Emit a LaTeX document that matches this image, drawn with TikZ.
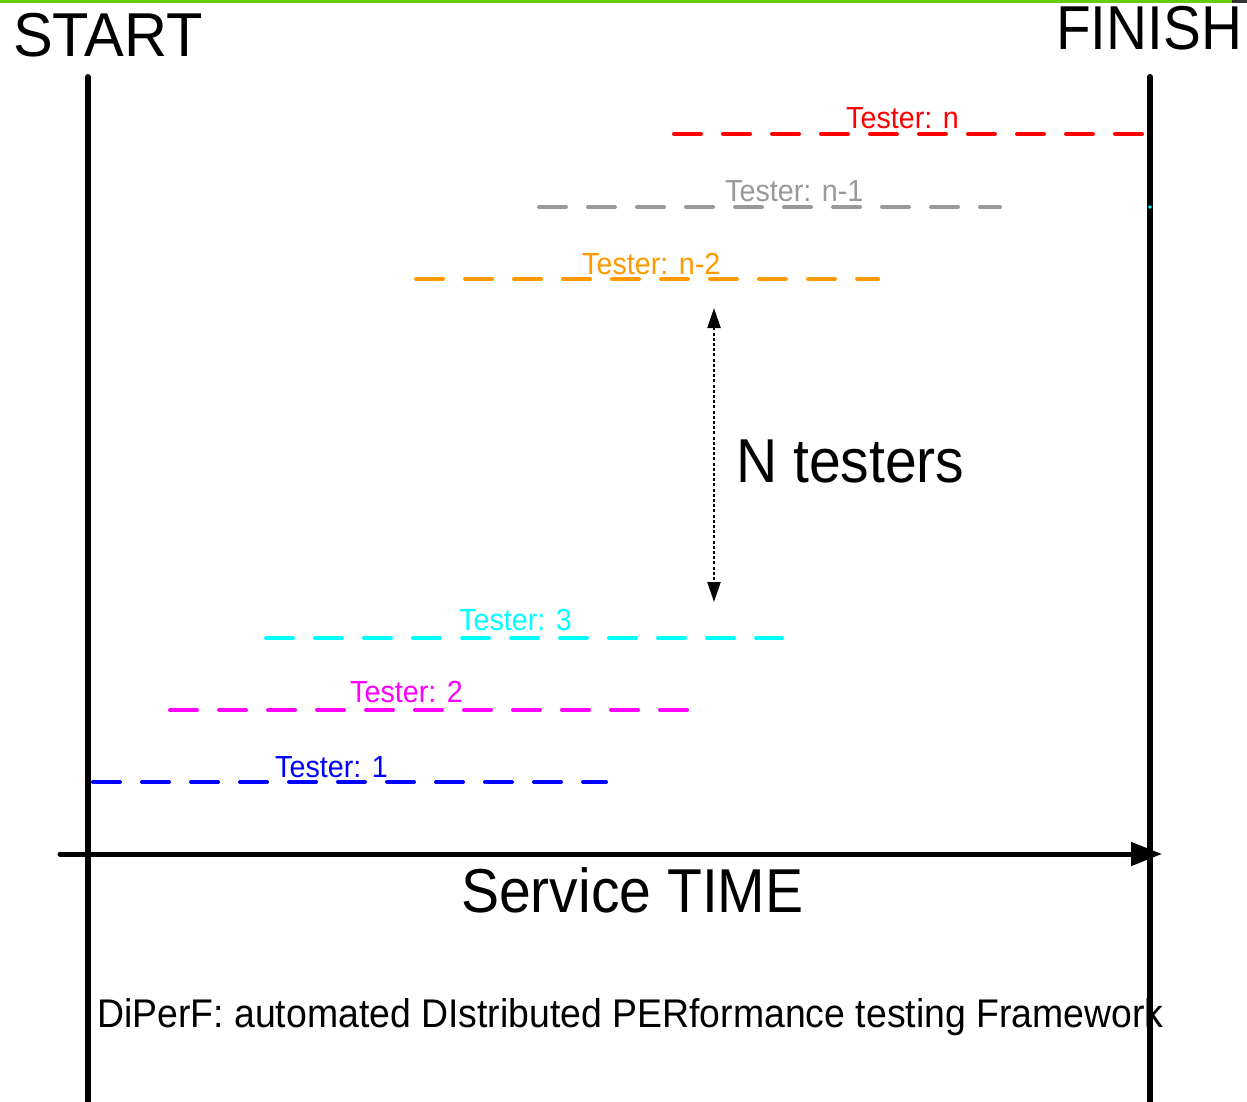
\documentclass[tikz,border=0pt]{standalone}
\usepackage{fontspec}
\setmainfont{Liberation Sans}
\usetikzlibrary{arrows.meta}
\definecolor{topgreen}{HTML}{66CC00}
\definecolor{topdark}{HTML}{333333}
\definecolor{tgray}{HTML}{999999}
\definecolor{torange}{HTML}{FF9900}
\definecolor{tcyan}{HTML}{00FFFF}
\definecolor{tmagenta}{HTML}{FF00FF}
\definecolor{tblue}{HTML}{0000FF}
\definecolor{tred}{HTML}{FF0000}
\newcommand{\sq}[2][0.92]{\scalebox{#1}[1]{#2}}
\tikzset{
  bigtext/.style={anchor=base west, inner sep=0pt, font=\fontsize{62}{70}\selectfont},
  midtext/.style={anchor=base west, inner sep=0pt, font=\fontsize{40}{46}\selectfont},
  lbl/.style={anchor=base west, inner sep=0pt, font=\fontsize{30.5}{34}\selectfont},
  testerline/.style={line width=4pt, line cap=round, dash pattern=on 27pt off 22pt},
  bar/.style={line width=6pt, line cap=round},
}
\begin{document}
\begin{tikzpicture}[x=1pt,y=-1pt]
\useasboundingbox (0,0) rectangle (1247,1102);
% top border
\fill[topgreen] (0,0) rectangle (1232,3);
\fill[topdark] (1232,0) rectangle (1247,3);
% titles
\node[bigtext] (start) at (13,57) {\sq[0.96]{START}};
\node[bigtext] (finish) at (1056,50) {\sq[0.915]{FINISH}};
% vertical bars
\coordinate (ls) at (88,77);
\coordinate (le) at (88,1110);
\coordinate (rs) at (1150,77);
\coordinate (re) at (1150,1110);
\draw[bar] (ls) -- (le);
\draw[bar] (rs) -- (re);
% time axis
\coordinate (as) at (60,854);
\coordinate (ae) at (1162,854);
\draw[line width=5pt, line cap=round, -{Triangle[length=31pt,width=23pt]}] (as) -- (ae);
\node[bigtext] (svc) at (461,912) {\sq{Service TIME}};
% tester lines
\coordinate (rS) at (674,134);  \coordinate (rE) at (1146,134);
\coordinate (gS) at (539,207);  \coordinate (gE) at (1000,207);
\coordinate (oS) at (416,279);  \coordinate (oE) at (878,279);
\coordinate (cS) at (266,638);  \coordinate (cE) at (782,638);
\coordinate (mS) at (170,710);  \coordinate (mE) at (688,710);
\coordinate (bS) at (93,782);   \coordinate (bE) at (606,782);
\draw[testerline, tred] (rS) -- (rE);
\draw[testerline, tgray] (gS) -- (gE);
\draw[testerline, torange] (oS) -- (oE);
\draw[testerline, tcyan] (cS) -- (cE);
\draw[testerline, tmagenta] (mS) -- (mE);
\draw[testerline, tblue] (bS) -- (bE);
\node[lbl, text=tred] (lr) at (846,129) {\sq[0.94]{Tester: n}};
\node[lbl, text=tgray] (lg) at (725,202) {\sq[0.94]{Tester: n-1}};
\node[lbl, text=torange] (lo) at (582,274) {\sq[0.94]{Tester: n-2}};
\node[lbl, text=tcyan] (lc) at (459,630) {\sq[0.94]{Tester: 3}};
\node[lbl, text=tmagenta] (lm) at (350,702) {\sq[0.94]{Tester: 2}};
\node[lbl, text=tblue] (lb) at (275,777) {\sq[0.94]{Tester: 1}};
% N testers arrow
\coordinate (nT) at (714,308);
\coordinate (nB) at (714,602);
\draw[line width=2.3pt, dash pattern=on 3pt off 2.2pt, {Triangle[length=20pt,width=13pt]}-{Triangle[length=20pt,width=13pt]}] (nT) -- (nB);
\node[bigtext] (nt) at (736,482) {\sq{N testers}};
% caption
\node[midtext] (cap) at (97,1027) {\sq[0.935]{DiPerF: automated DIstributed PERformance testing Framework}};
% small dot
\fill[tcyan] (1150,207) circle (1.8);
\end{tikzpicture}
\end{document}
